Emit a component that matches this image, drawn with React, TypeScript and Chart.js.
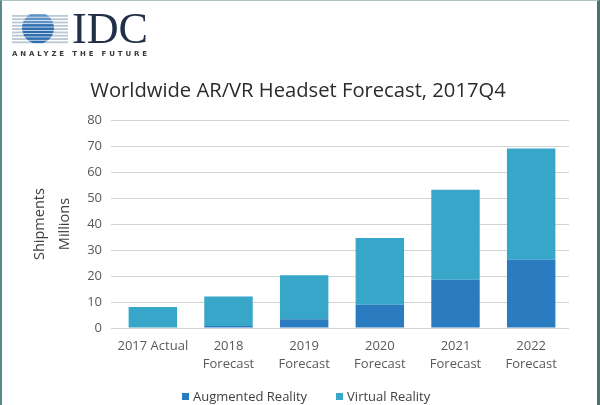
import React, { useEffect, useRef } from "react";
import { Chart, registerables } from "chart.js";

Chart.register(...registerables);

const categories: string[][] = [
  ["2017 Actual"],
  ["2018", "Forecast"],
  ["2019", "Forecast"],
  ["2020", "Forecast"],
  ["2021", "Forecast"],
  ["2022", "Forecast"],
];
const augmentedReality: number[] = [0, 0.8, 3.4, 9.0, 18.6, 26.3];
const virtualReality: number[] = [8.1, 11.4, 16.9, 25.6, 34.6, 42.7];
const yTicks: number[] = [0, 10, 20, 30, 40, 50, 60, 70, 80];
const seriesNames: string[] = ["Augmented Reality", "Virtual Reality"];
const seriesColors: string[] = ["#2b7bc0", "#37a6c8"];
const titleText = "Worldwide AR/VR Headset Forecast, 2017Q4";
const yTitle = ["Shipments", "Millions"];

const FONT = "'Open Sans', 'Noto Sans', sans-serif";

function Logo() {
  const lines: number[] = [];
  for (let i = 0; i < 9; i++) lines.push(15 + i * 3.3);
  return (
    <svg width={170} height={62} style={{ position: "absolute", left: 0, top: 0 }}>
      <defs>
        <clipPath id="globe">
          <circle cx={38} cy={28} r={16} />
        </clipPath>
      </defs>
      {lines.map((y, i) => (
        <rect key={"g" + i} x={12} y={y} width={56} height={1.8} fill="#b9c7d3" />
      ))}
      <g clipPath="url(#globe)">
        <rect x={20} y={10} width={40} height={40} fill="#ffffff" />
        {lines.map((y, i) => (
          <rect
            key={"b" + i}
            x={20}
            y={y - 0.8}
            width={40}
            height={2.6}
            fill={i < 3 ? "#5f93c6" : "#2f6fae"}
          />
        ))}
      </g>
      <text
        x={72}
        y={43}
        fontFamily="'Liberation Serif', 'DejaVu Serif', serif"
        fontSize={44}
        fill="#1f3048"
        textLength={76}
        lengthAdjust="spacingAndGlyphs"
      >
        IDC
      </text>
      <text
        x={12}
        y={55.5}
        fontFamily="'DejaVu Sans', sans-serif"
        fontSize={7}
        fontWeight="bold"
        fill="#3a3a3a"
        textLength={135}
        lengthAdjust="spacing"
      >
        ANALYZE THE FUTURE
      </text>
    </svg>
  );
}

export default function App() {
  const canvasRef = useRef<HTMLCanvasElement | null>(null);

  useEffect(() => {
    if (!canvasRef.current) return;
    const chart = new Chart(canvasRef.current, {
      type: "bar",
      data: {
        labels: categories,
        datasets: [
          {
            label: seriesNames[0],
            data: augmentedReality,
            backgroundColor: seriesColors[0],
            categoryPercentage: 0.8,
            barPercentage: 0.8,
          },
          {
            label: seriesNames[1],
            data: virtualReality,
            backgroundColor: seriesColors[1],
            categoryPercentage: 0.8,
            barPercentage: 0.8,
          },
        ],
      },
      options: {
        responsive: false,
        animation: false,
        layout: { padding: { left: 0, right: 31, top: 120, bottom: 23 } },
        plugins: {
          title: { display: false },
          legend: { display: false },
          tooltip: { enabled: false },
        },
        scales: {
          x: {
            stacked: true,
            grid: { display: false, drawTicks: false },
            border: { display: false },
            ticks: {
              color: "#595959",
              font: { family: FONT, size: 13, lineHeight: 1.38 },
              padding: 9,
              maxRotation: 0,
            },
          },
          y: {
            stacked: true,
            min: 0,
            max: 80,
            afterBuildTicks: (scale: any) => {
              scale.ticks = yTicks.map((v) => ({ value: v }));
            },
            afterFit: (scale: any) => {
              scale.width = 115;
            },
            grid: {
              color: "#d3d3d3",
              lineWidth: 1,
              tickLength: 4,
            },
            border: { display: false },
            ticks: {
              color: "#595959",
              font: { family: FONT, size: 13 },
              padding: 9,
            },
            title: {
              display: true,
              text: yTitle,
              color: "#404040",
              font: { family: FONT, size: 14.5, lineHeight: 1.72 },
              padding: { top: 27.5, bottom: 4 },
            },
          },
        },
      },
    });
    return () => chart.destroy();
  }, []);

  return (
    <div
      style={{
        position: "absolute",
        left: 0,
        top: 0,
        width: 600,
        height: 405,
        background: "#ffffff",
        overflow: "hidden",
        fontFamily: FONT,
      }}
    >
      <canvas
        ref={canvasRef}
        width={600}
        height={405}
        style={{ position: "absolute", left: 0, top: 0 }}
      />
      <Logo />
      <div
        style={{
          position: "absolute",
          left: 0,
          top: 75,
          width: 596,
          textAlign: "center",
          fontSize: 20.2,
          lineHeight: "28px",
          color: "#2b2b2b",
          whiteSpace: "nowrap",
        }}
      >
        {titleText}
      </div>
      <div
        style={{
          position: "absolute",
          left: 182,
          top: 386,
          height: 20,
          display: "flex",
          alignItems: "center",
          fontSize: 13,
          color: "#404040",
          whiteSpace: "nowrap",
        }}
      >
        {seriesNames.map((name, i) => (
          <div
            key={name}
            style={{ display: "flex", alignItems: "center", marginRight: i === 0 ? 29 : 0 }}
          >
            <span
              style={{
                display: "inline-block",
                width: 7,
                height: 7,
                background: seriesColors[i],
                marginRight: 4,
              }}
            />
            <span>{name}</span>
          </div>
        ))}
      </div>
      <div
        style={{
          position: "absolute",
          left: 0,
          top: 0,
          width: 600,
          height: 405,
          boxSizing: "border-box",
          borderLeft: "2px solid #5a8886",
          borderTop: "1px solid #a9c6c4",
          borderRight: "3px solid #4b7070",
          pointerEvents: "none",
        }}
      />
    </div>
  );
}
